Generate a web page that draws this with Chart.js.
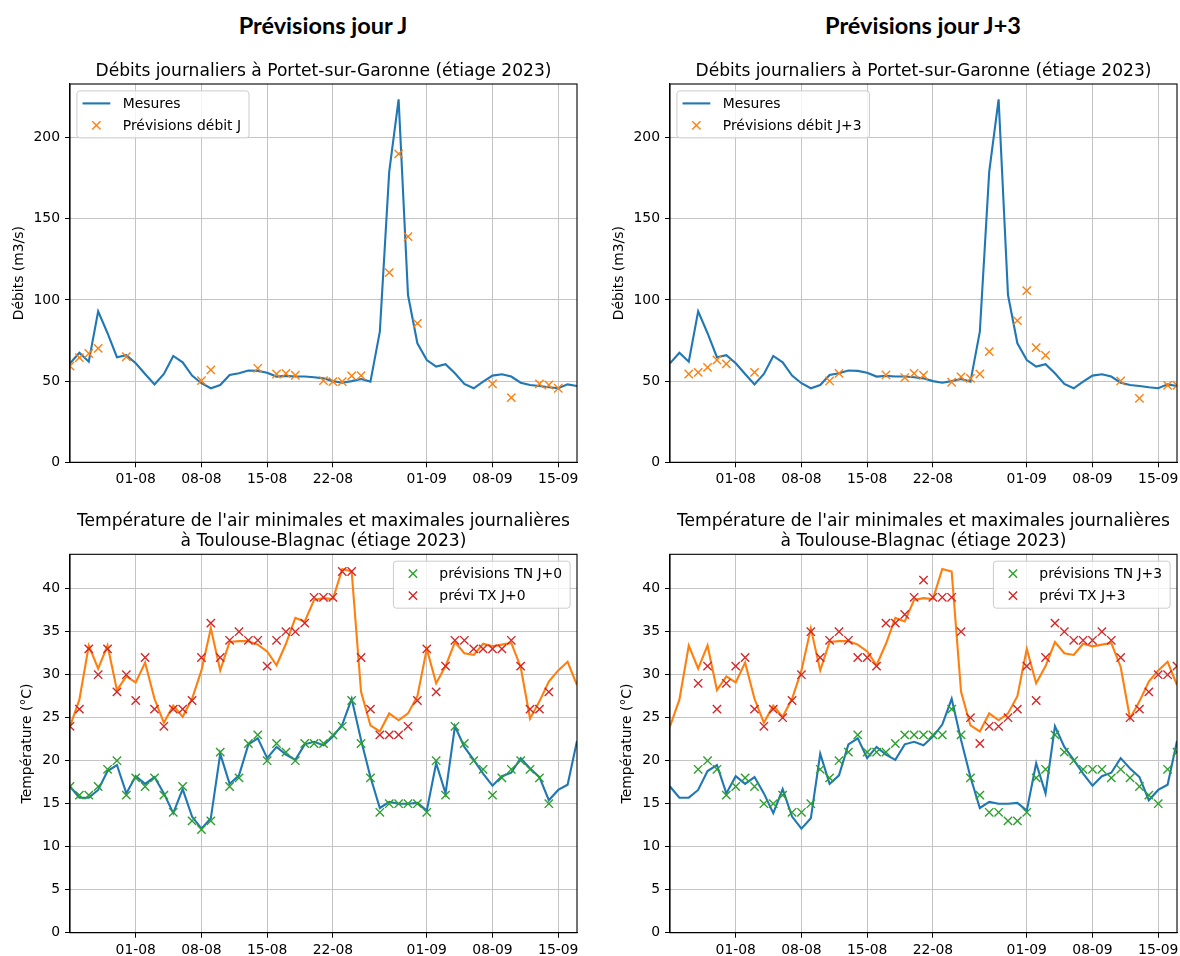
<!DOCTYPE html>
<html>
<head>
<meta charset="utf-8">
<script src="https://cdn.jsdelivr.net/npm/chart.js@4.4.1/dist/chart.umd.min.js"></script>
<style>
  body { margin: 0; background: #fff; width: 1180px; height: 956px; position: relative; overflow: hidden; }
  canvas { position: absolute; }
  .big { position: absolute; width: 400px; text-align: center; font-family: Lato, sans-serif; font-weight: bold; font-size: 23.5px; color: #000; }
</style>
</head>
<body>
<div class="big" style="left:123px; top:11px;">Prévisions jour J</div>
<div class="big" style="left:723px; top:11px;">Prévisions jour J+3</div>
<canvas id="flowJ" width="600" height="450" style="left:0; top:40px;"></canvas>
<canvas id="flowJ3" width="600" height="450" style="left:600px; top:40px;"></canvas>
<canvas id="tempJ" width="600" height="466" style="left:0; top:490px;"></canvas>
<canvas id="tempJ3" width="600" height="466" style="left:600px; top:490px;"></canvas>
<script>
// one entry per day, 25-07 -> 17-09 (2023)
const dates = [
  '25-07','26-07','27-07','28-07','29-07','30-07','31-07',
  '01-08','02-08','03-08','04-08','05-08','06-08','07-08','08-08','09-08','10-08',
  '11-08','12-08','13-08','14-08','15-08','16-08','17-08','18-08','19-08','20-08',
  '21-08','22-08','23-08','24-08','25-08','26-08','27-08','28-08','29-08','30-08','31-08',
  '01-09','02-09','03-09','04-09','05-09','06-09','07-09','08-09','09-09','10-09',
  '11-09','12-09','13-09','14-09','15-09','16-09','17-09'
];
const tickLabels = ['01-08', '08-08', '15-08', '22-08', '01-09', '08-09', '15-09'];

// débits mesurés Portet-sur-Garonne (m3/s)
const debitMesures = [
  61, 67.5, 62, 93, 79.5, 64.7, 66, 61, 54.4, 48, 54.4, 65.5, 61.6, 53.4, 48.7, 45.6, 47.6,
  53.8, 54.8, 56.5, 56.3, 55.2, 52.8, 53.2, 52.8, 52.8, 52.4, 51.7, 50, 49, 50, 51.3, 49.7,
  80.5, 179, 223.6, 103, 73.3, 63, 59, 60.4, 54.8, 48.3, 45.6, 49.7, 53.4, 54.2, 52.8, 49,
  47.6, 47, 46.2, 45.6, 48, 47
];
const debitPrevJ = [
  59.3, 64.5, 67, 70.2, null, null, 65, null, null, null, null, null, null, null, 50.3, 56.9, null,
  null, null, null, 57.9, null, 54.4, 54.8, 53.6, null, null, 50.3, 49.7, 49.7, 53.2, 53.4, null,
  null, 116.8, 190, 139, 85.6, null, null, null, null, null, null, null, 48.3, null, 39.8, null,
  null, 48.3, 47.6, 45.6, null, null
];
const debitPrevJ3 = [
  null, null, 54.4, 55.4, 58.5, 63, 60.6, null, null, 55.4, null, null, null, null, null, null, null,
  50.1, 54.8, null, null, null, null, 53.8, null, 52.2, 54.8, 53.6, null, null, 49.3, 52.6, 51.7,
  54.4, 68.2, null, null, 87.3, 105.7, 70.6, 65.9, null, null, null, null, null, null, null, 50.1,
  null, 39.4, null, null, 47.4, 47.4
];

// températures mesurées Toulouse-Blagnac (°C)
const tnMesures = [
  17.0, 15.7, 15.7, 16.6, 18.8, 19.5, 16.2, 18.2, 17.3, 18.1, 16.2, 13.9, 16.7, 13.5, 12.1, 13.3,
  20.8, 17.3, 18.3, 21.9, 22.6, 20.3, 21.6, 20.7, 20.1, 21.9, 22.2, 21.8, 22.8, 24.2, 27.2, 22.4,
  18.1, 14.5, 15.2, 15.0, 15.0, 15.1, 14.2, 19.7, 16.2, 24.0, 21.6, 20.1, 18.5, 17.1, 18.2, 18.6,
  20.3, 19.1, 18.1, 15.4, 16.6, 17.2, 22.3
];
const txMesures = [
  24.0, 27.1, 33.4, 30.7, 33.4, 28.2, 29.8, 29.1, 31.4, 27.2, 24.4, 26.4, 25.1, 27.2, 30.5, 35.4,
  30.5, 33.8, 33.9, 33.9, 33.5, 32.7, 31.1, 33.6, 36.6, 36.2, 38.7, 38.9, 38.8, 42.3, 42.0, 28.0,
  24.1, 23.4, 25.5, 24.7, 25.5, 27.5, 33.0, 29.0, 31.0, 33.8, 32.5, 32.3, 33.6, 33.3, 33.5, 33.7,
  30.9, 24.9, 26.9, 29.2, 30.5, 31.5, 28.8
];
const tnPrevJ0 = [
  17, 16, 16, 17, 19, 20, 16, 18, 17, 18, 16, 14, 17, 13, 12, 13, 21, 17, 18, 22, 23, 20, 22, 21,
  20, 22, 22, 22, 23, 24, 27, 22, 18, 14, 15, 15, 15, 15, 14, 20, 16, 24, 22, 20, 19, 16, 18, 19,
  20, 19, 18, 15, null, null, null
];
const txPrevJ0 = [
  24, 26, 33, 30, 33, 28, 30, 27, 32, 26, 24, 26, 26, 27, 32, 36, 32, 34, 35, 34, 34, 31, 34, 35,
  35, 36, 39, 39, 39, 42, 42, 32, 26, 23, 23, 23, 24, 27, 33, 28, 31, 34, 34, 33, 33, 33, 33, 34,
  31, 26, 26, 28, null, null, null
];
const tnPrevJ3 = [
  null, null, null, 19, 20, 19, 16, 17, 18, 17, 15, 15, 16, 14, 14, 15, 19, 18, 20, 21, 23, 21,
  21, 21, 22, 23, 23, 23, 23, 23, 26, 23, 18, 16, 14, 14, 13, 13, 14, 18, 19, 23, 21, 20, 19, 19,
  19, 18, 19, 18, 17, 16, 15, 19, 21
];
const txPrevJ3 = [
  null, null, null, 29, 31, 26, 29, 31, 32, 26, 24, 26, 25, 27, 30, 35, 32, 34, 35, 34, 32, 32,
  31, 36, 36, 37, 39, 41, 39, 39, 39, 35, 25, 22, 24, 24, 25, 26, 31, 27, 32, 36, 35, 34, 34, 34,
  35, 34, 32, 25, 26, 28, 30, 30, 31
];

const flowTicks = [0, 50, 100, 150, 200];
const tempTicks = [0, 5, 10, 15, 20, 25, 30, 35, 40];

const BLUE = '#1f77b4', ORANGE = '#ff7f0e', GREEN = '#2ca02c', RED = '#d62728';
const FONT = "'DejaVu Sans', sans-serif";

Chart.defaults.font.family = FONT;
Chart.defaults.font.size = 13.9;
Chart.defaults.color = '#000';

function toXY(arr) {
  return arr.map((v, i) => (v == null ? null : { x: i, y: v })).filter(p => p);
}

function lineSet(label, arr, color) {
  return { label, data: toXY(arr), borderColor: color, backgroundColor: color, borderWidth: 2.1,
           pointRadius: 0, tension: 0, order: 1 };
}

function crossSet(label, arr, color) {
  return { label, data: toXY(arr), showLine: false, borderColor: color, backgroundColor: color,
           pointStyle: 'crossRot', pointRadius: 5.9, pointBorderWidth: 1.4, order: 0 };
}

// matplotlib-like title above the axes, centred on the plot area
function titlePlugin(lines) {
  return {
    id: 'axTitle',
    afterDraw(chart) {
      const { ctx, chartArea: a } = chart;
      ctx.save();
      ctx.font = '17.1px ' + FONT;
      ctx.fillStyle = '#000';
      ctx.textAlign = 'center';
      ctx.textBaseline = 'alphabetic';
      const cx = (a.left + a.right) / 2;
      lines.forEach((t, i) => {
        ctx.fillText(t, cx, a.top - 8.3 - (lines.length - 1 - i) * 20.5);
      });
      ctx.restore();
    }
  };
}

// four spines
const framePlugin = {
  id: 'frame',
  afterDatasetsDraw(chart) {
    const { ctx, chartArea: a } = chart;
    ctx.save();
    ctx.strokeStyle = '#000';
    ctx.lineWidth = 1.1;
    ctx.strokeRect(a.left, a.top, a.right - a.left, a.bottom - a.top);
    ctx.restore();
  }
};

function legendPlugin(items, corner) {
  return {
    id: 'mplLegend',
    afterDraw(chart) {
      const { ctx, chartArea: a } = chart;
      ctx.save();
      ctx.font = '13.9px ' + FONT;
      const tw = Math.max(...items.map(it => ctx.measureText(it.label).width));
      const w = 5.6 + 27.8 + 12.5 + tw + 8;
      const h = 47;
      const x = corner === 'left' ? a.left + 6.9 : a.right - 6.9 - w;
      const y = a.top + 6.9;
      ctx.beginPath();
      ctx.roundRect(x, y, w, h, 3);
      ctx.fillStyle = 'rgba(255,255,255,0.8)';
      ctx.fill();
      ctx.strokeStyle = '#cccccc';
      ctx.lineWidth = 1;
      ctx.stroke();
      items.forEach((it, i) => {
        const cy = y + 12.5 + i * 22;
        const hx = x + 5.6;
        ctx.strokeStyle = it.color;
        if (it.kind === 'line') {
          ctx.lineWidth = 2.1;
          ctx.beginPath();
          ctx.moveTo(hx, cy);
          ctx.lineTo(hx + 27.8, cy);
          ctx.stroke();
        } else {
          const mx = hx + 13.9, d = 4.15;
          ctx.lineWidth = 1.4;
          ctx.beginPath();
          ctx.moveTo(mx - d, cy - d); ctx.lineTo(mx + d, cy + d);
          ctx.moveTo(mx - d, cy + d); ctx.lineTo(mx + d, cy - d);
          ctx.stroke();
        }
        ctx.fillStyle = '#000';
        ctx.textAlign = 'left';
        ctx.textBaseline = 'middle';
        ctx.fillText(it.label, hx + 27.8 + 12.5, cy + 1);
      });
      ctx.restore();
    }
  };
}

function makeChart(id, o) {
  new Chart(document.getElementById(id), {
    type: 'line',
    data: { datasets: o.datasets },
    options: {
      responsive: false,
      animation: false,
      events: [],
      layout: { padding: { top: o.padTop, right: 23, left: 0, bottom: 0 } },
      plugins: { legend: { display: false }, tooltip: { enabled: false } },
      scales: {
        x: {
          type: 'linear', min: 0, max: dates.length - 1,
          afterBuildTicks: s => { s.ticks = tickLabels.map(l => ({ value: dates.indexOf(l) })); },
          afterFit: s => { s.height = o.xHeight; s.paddingLeft = 0; s.paddingRight = 0; },
          ticks: { callback: v => dates[v], padding: 4, maxRotation: 0, autoSkip: false },
          grid: { color: '#c4c4c4', lineWidth: 1, tickColor: '#000', tickLength: 5 },
          border: { color: '#000', width: 1.1 }
        },
        y: {
          type: 'linear', min: 0, max: o.yMax,
          afterBuildTicks: s => { s.ticks = o.yTicks.map(v => ({ value: v })); },
          afterFit: s => { s.width = 70; s.paddingTop = 0; s.paddingBottom = 0; },
          ticks: { padding: 5 },
          grid: { color: '#c4c4c4', lineWidth: 1, tickColor: '#000', tickLength: 5 },
          border: { color: '#000', width: 1.1 },
          title: { display: true, text: o.yTitle, padding: { top: o.yTitlePad, bottom: 0 } }
        }
      }
    },
    plugins: [framePlugin, titlePlugin(o.title), legendPlugin(o.legend, o.corner)]
  });
}

const flowTitle = ['Débits journaliers à Portet-sur-Garonne (étiage 2023)'];
const tempTitle = ["Température de l'air minimales et maximales journalières",
                   'à Toulouse-Blagnac (étiage 2023)'];

makeChart('flowJ', {
  padTop: 44, xHeight: 27.7, yMax: 233, yTicks: flowTicks, yTitle: 'Débits (m3/s)', yTitlePad: 11,
  title: flowTitle, corner: 'left',
  datasets: [lineSet('Mesures', debitMesures, BLUE), crossSet('Prévisions débit J', debitPrevJ, ORANGE)],
  legend: [{ label: 'Mesures', color: BLUE, kind: 'line' },
           { label: 'Prévisions débit J', color: ORANGE, kind: 'x' }]
});

makeChart('flowJ3', {
  padTop: 44, xHeight: 27.7, yMax: 233, yTicks: flowTicks, yTitle: 'Débits (m3/s)', yTitlePad: 11,
  title: flowTitle, corner: 'left',
  datasets: [lineSet('Mesures', debitMesures, BLUE), crossSet('Prévisions débit J+3', debitPrevJ3, ORANGE)],
  legend: [{ label: 'Mesures', color: BLUE, kind: 'line' },
           { label: 'Prévisions débit J+3', color: ORANGE, kind: 'x' }]
});

makeChart('tempJ', {
  padTop: 64.3, xHeight: 23.3, yMax: 44, yTicks: tempTicks, yTitle: 'Température (°C)', yTitlePad: 19,
  title: tempTitle, corner: 'right',
  datasets: [lineSet('TN', tnMesures, BLUE), lineSet('TX', txMesures, ORANGE),
             crossSet('prévisions TN J+0', tnPrevJ0, GREEN), crossSet('prévi TX J+0', txPrevJ0, RED)],
  legend: [{ label: 'prévisions TN J+0', color: GREEN, kind: 'x' },
           { label: 'prévi TX J+0', color: RED, kind: 'x' }]
});

makeChart('tempJ3', {
  padTop: 64.3, xHeight: 23.3, yMax: 44, yTicks: tempTicks, yTitle: 'Température (°C)', yTitlePad: 19,
  title: tempTitle, corner: 'right',
  datasets: [lineSet('TN', tnMesures, BLUE), lineSet('TX', txMesures, ORANGE),
             crossSet('prévisions TN J+3', tnPrevJ3, GREEN), crossSet('prévi TX J+3', txPrevJ3, RED)],
  legend: [{ label: 'prévisions TN J+3', color: GREEN, kind: 'x' },
           { label: 'prévi TX J+3', color: RED, kind: 'x' }]
});
</script>
</body>
</html>
